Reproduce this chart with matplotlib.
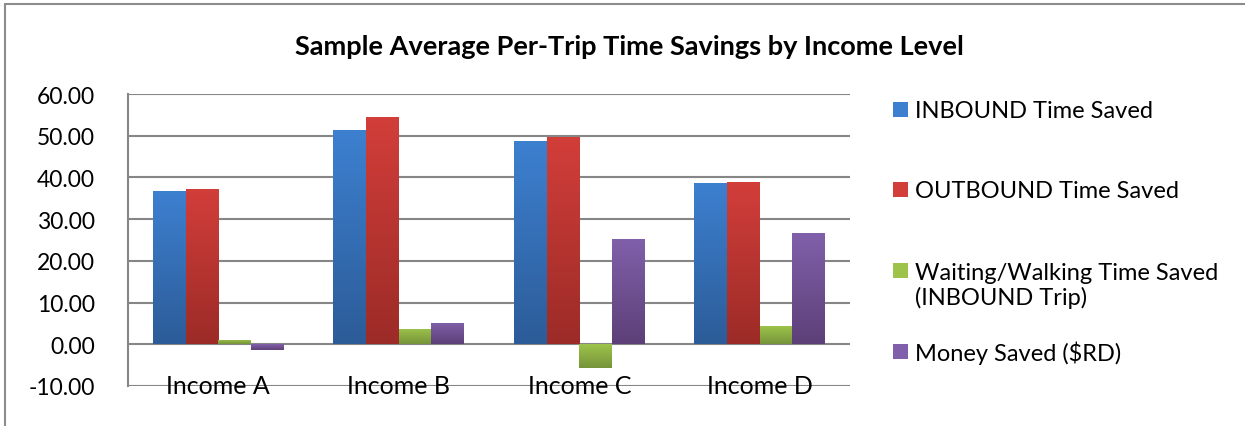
import numpy as np
import matplotlib.pyplot as plt
from matplotlib.colors import LinearSegmentedColormap
from matplotlib.patches import Rectangle

plt.rcParams['font.family'] = ['Lato', 'DejaVu Sans']

# values
categories = ["Income A", "Income B", "Income C", "Income D"]
series_names = ["INBOUND Time Saved", "OUTBOUND Time Saved",
                "Waiting/Walking Time Saved\n(INBOUND Trip)", "Money Saved ($RD)"]
inbound = [36.8, 51.4, 48.8, 38.6]
outbound = [37.2, 54.4, 49.8, 38.8]
waiting = [1.0, 3.7, -5.6, 4.3]
money = [-1.3, 5.2, 25.2, 26.6]
yticks = [-10, 0, 10, 20, 30, 40, 50, 60]

# (top colour, bottom colour) for the Excel-like gradient
colors = [("#3d80d0", "#2c5c98"), ("#d23e3a", "#9c2b27"),
          ("#9dc34b", "#76943a"), ("#8060aa", "#5d4078")]

fig = plt.figure(figsize=(12.45, 4.27), dpi=100)
fig.patches.append(Rectangle((5 / 1245, -0.1), 1.2, 1.1 - 5 / 427,
                             transform=fig.transFigure, fill=False,
                             edgecolor="#8c8c8c", linewidth=1.5))

ax = fig.add_axes([128 / 1245, 1 - 387 / 427, (850 - 128) / 1245, (387 - 95) / 427])

x = np.arange(len(categories))
width = 0.181
data = [inbound, outbound, waiting, money]

ax.set_xlim(-0.5, len(categories) - 0.5)
ax.set_ylim(-10, 60)

for i, (vals, (c_top, c_bot)) in enumerate(zip(data, colors)):
    offs = (i - 1.5) * width
    bars = ax.bar(x + offs, vals, width, color="none", edgecolor="none", zorder=3)
    cmap = LinearSegmentedColormap.from_list("g%d" % i, [c_bot, c_top])
    grad = np.linspace(0, 1, 100).reshape(-1, 1)
    for b, v in zip(bars, vals):
        x0 = b.get_x()
        im = ax.imshow(grad, cmap=cmap, origin="lower", aspect="auto",
                       extent=(x0, x0 + width, min(0, v), max(0, v)), zorder=3)
        im.set_clip_path(b)

ax.set_yticks(yticks)
ax.set_yticklabels(["%.2f" % t for t in yticks], fontsize=16.5)
ax.tick_params(axis="y", length=0, pad=24)
ax.set_xticks([])
ax.grid(axis="y", color="#868686", linewidth=1.5, zorder=1)
for s in ["top", "right", "bottom"]:
    ax.spines[s].set_visible(False)
ax.spines["left"].set_color("#868686")
ax.spines["left"].set_linewidth(1.5)

for xi, cat in zip(x, categories):
    ax.text(xi, -10, cat, ha="center", va="center", fontsize=18, zorder=5)

fig.text(629 / 1245, 1 - 47 / 427, "Sample Average Per-Trip Time Savings by Income Level",
         ha="center", va="center", fontsize=19.5, fontweight="bold")

# legend drawn by hand to match Excel's spacing
leg_y = [111, 191, 272, 353]
for (c_top, c_bot), name, yy in zip(colors, series_names, leg_y):
    fig.patches.append(Rectangle((893 / 1245, 1 - (yy + 7) / 427), 15 / 1245, 15 / 427,
                                 transform=fig.transFigure, facecolor=c_top,
                                 edgecolor="none"))
    ty = yy + 14 if "\n" in name else yy
    fig.text(915 / 1245, 1 - ty / 427, name, ha="left", va="center", fontsize=17,
             linespacing=1.2)

fig.savefig("out.png", dpi=100)
